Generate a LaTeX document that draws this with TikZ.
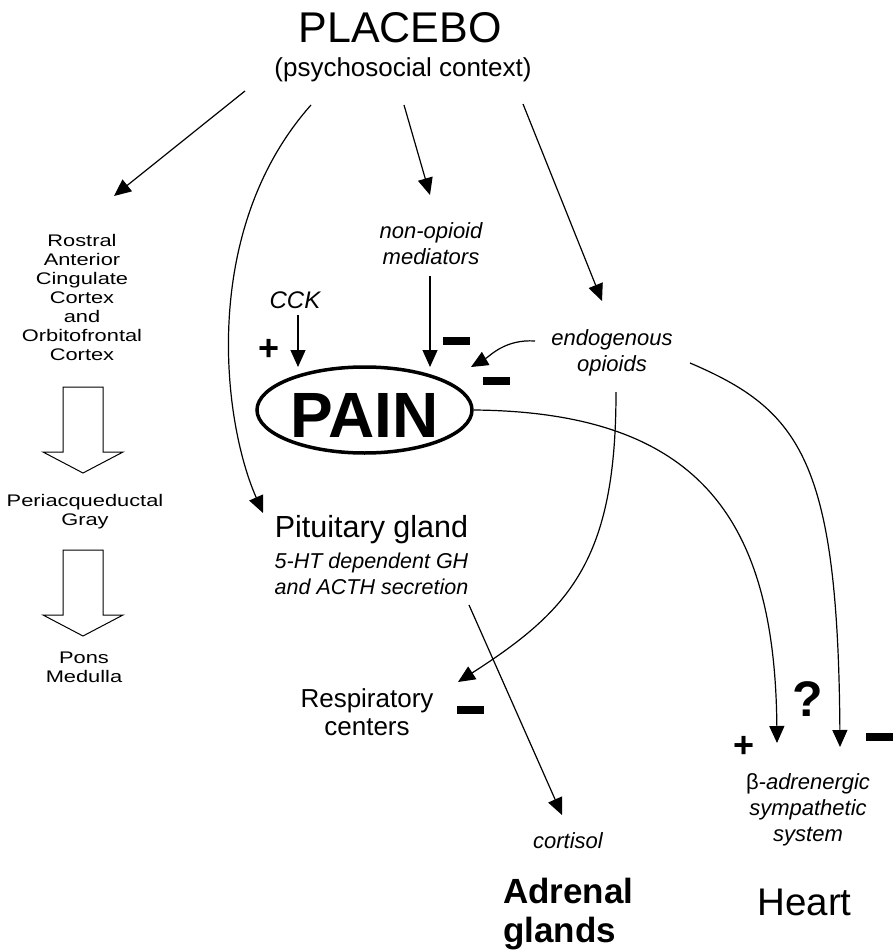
\documentclass[tikz,border=0pt]{standalone}
\usepackage{fontspec}
\setmainfont{Liberation Sans}
\newfontfamily\widesans[FakeStretch=1.3]{Liberation Sans}
\usetikzlibrary{arrows.meta, shapes.geometric}

\tikzset{
  txt/.style={inner sep=0pt, align=center},
  sub/.style={txt, font=\itshape\fontsize{22}{26}\selectfont},
  brain/.style={txt, anchor=north, font=\widesans\fontsize{16.8}{19}\selectfont},
  minus/.style={fill=black, inner sep=0pt, minimum width=27pt, minimum height=8pt},
  sign/.style={inner sep=0pt, font=\bfseries\fontsize{36}{40}\selectfont},
  link/.style={line width=1.2pt},
  blockarrow/.style={line width=1pt}
}

\begin{document}
\begin{tikzpicture}[x=1pt, y=-1pt, >={Triangle[length=17pt,width=15pt]}]
        \useasboundingbox (0,0) rectangle (893,952);

        \node[txt, anchor=base, font=\fontsize{43}{50}\selectfont] (placebo) at (400,43) {PLACEBO};
        \node[txt, anchor=base, font=\fontsize{26}{30}\selectfont] (context) at (403,77) {(psychosocial context)};

        \node[brain] (racc) at (82,234) {Rostral\\Anterior\\Cingulate\\Cortex\\and\\Orbitofrontal\\Cortex};
        \node[brain] (pag) at (85,494) {Periacqueductal\\Gray};
        \node[brain] (pons) at (84,652) {Pons\\Medulla};

        \node[sub, anchor=base, font=\itshape\fontsize{24}{28}\selectfont] (cck) at (295,308) {CCK};
        \node[sub, anchor=north] (nonopioid) at (431,222) {non-opioid\\mediators};
        \node[sub, anchor=north] (endo) at (612,329) {endogenous\\opioids};
        \node[ellipse, draw, line width=3.5pt, inner sep=0pt, minimum width=215pt, minimum height=86pt,
              text height=54pt, text depth=0pt, font=\bfseries\fontsize{64}{70}\selectfont] (pain) at (364.5,410) {PAIN};

        \node[txt, anchor=base, font=\fontsize{30.5}{34}\selectfont] (pituitary) at (371.5,537) {Pituitary gland};
        \node[sub, anchor=north, font=\itshape\fontsize{21.5}{26}\selectfont] (secretion) at (371.5,552.6) {5-HT dependent GH\\and ACTH secretion};
        \node[txt, anchor=north, font=\fontsize{26}{28}\selectfont] (resp) at (367,688.4) {Respiratory\\centers};
        \node[sub, anchor=base] (cortisol) at (568,848) {cortisol};
        \node[txt, anchor=north west, align=left, font=\bfseries\fontsize{35}{39}\selectfont] (adrenal) at (503,878) {Adrenal\\glands};
        \node[sub, anchor=north] (beta) at (808,773.7) {{\upshape β}-adrenergic\\sympathetic\\system};
        \node[txt, anchor=base, font=\fontsize{38.5}{42}\selectfont] (heart) at (804.5,915) {Heart};

        \node[sign] (plus1) at (269,350) {+};
        \node[sign] (plus2) at (744,747) {+};
        \node[sign, anchor=base, font=\bfseries\fontsize{50}{55}\selectfont] (query) at (808,716) {?};
        \node[minus] (minus1) at (456,341) {};
        \node[minus] (minus2) at (496.5,381) {};
        \node[minus] (minus3) at (470,710) {};
        \node[minus] (minus4) at (879,737) {};

        \foreach \y in {387,550}
                \draw[blockarrow] (63,\y) -- (103,\y) -- (103,\y+65) -- (123,\y+65) -- (83,\y+86)
                        -- (43,\y+65) -- (63,\y+65) -- cycle;

        \coordinate (pl1) at (245,91);
        \coordinate (pl2) at (311,105);
        \coordinate (pl3) at (404,105);
        \coordinate (pl4) at (523,104);
        \coordinate (toRacc) at (114,196);
        \coordinate (toPit) at (263,513);
        \coordinate (toNon) at (430,195);
        \coordinate (toEndo) at (602,301);
        \coordinate (fromCck) at (298,315);
        \coordinate (toPainA) at (298,367);
        \coordinate (fromNon) at (430,276);
        \coordinate (toPainB) at (430,367);
        \coordinate (fromEndoA) at (535,341);
        \coordinate (toPainC) at (471,367);
        \coordinate (fromEndoB) at (616,392);
        \coordinate (toResp) at (458,682);
        \coordinate (fromEndoC) at (690,363);
        \coordinate (toHeartA) at (777,743);
        \coordinate (toHeartB) at (840,747);
        \coordinate (fromPit) at (469,605);
        \coordinate (toCortisol) at (562,815);

        \path[->, link]
                (pl1) edge (toRacc)
                (pl3) edge (toNon)
                (pl4) edge (toEndo)
                (fromCck) edge (toPainA)
                (fromNon) edge (toPainB)
                (fromPit) edge (toCortisol);
        \draw[->, link] (pl2) .. controls (200,230) and (222,420) .. (toPit);
        \draw[->, link] (fromEndoA) .. controls (505,339) and (490,356) .. (toPainC);
        \draw[->, link] (pain.east) .. controls (700,412) and (775,520) .. (toHeartA);
        \draw[->, link] (fromEndoB) .. controls (616,560) and (570,610) .. (toResp);
        \draw[->, link] (fromEndoC) .. controls (800,410) and (838,460) .. (toHeartB);
\end{tikzpicture}
\end{document}
